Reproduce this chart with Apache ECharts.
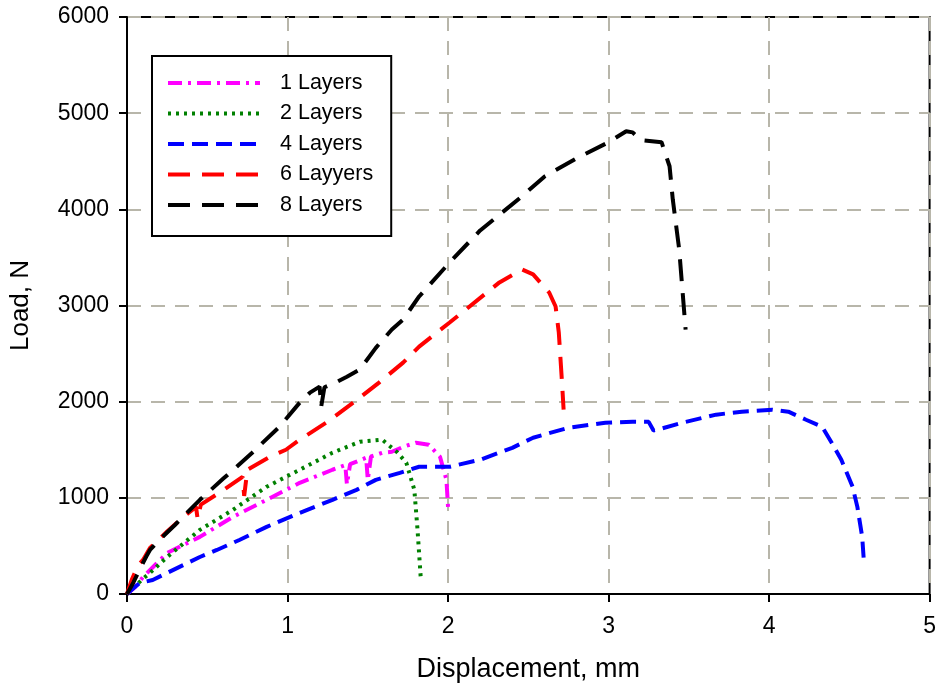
<!DOCTYPE html>
<html>
<head>
<meta charset="utf-8">
<title>Load vs Displacement</title>
<script src="https://cdn.jsdelivr.net/npm/echarts@6/dist/echarts.min.js"></script>
<style>
  html, body { margin: 0; padding: 0; background: #fff; }
  #chart { width: 939px; height: 692px; }
</style>
</head>
<body>
<div id="chart"></div>
<script>
// 数据 (displacement mm, load N)
const xTicks = [0, 1, 2, 3, 4, 5]
const yTicks = [0, 1000, 2000, 3000, 4000, 5000, 6000]
const seriesNames = ['1 Layers', '2 Layers', '4 Layers', '6 Layyers', '8 Layers']

const layers1 = [
  [0, 0], [0.05, 70], [0.1, 177], [0.25, 427], [0.454, 594], [0.66, 802], [0.87, 979],
  [1.076, 1156], [1.28, 1292], [1.36, 1340], [1.37, 1140], [1.39, 1350], [1.49, 1417],
  [1.5, 1187], [1.52, 1430], [1.59, 1469], [1.65, 1479], [1.72, 1530], [1.8, 1573],
  [1.88, 1552], [1.95, 1427], [1.99, 1187], [2.0, 906]
]
const layers2 = [
  [0, 0], [0.05, 80], [0.1, 160], [0.143, 219], [0.25, 385], [0.454, 667], [0.66, 875],
  [0.87, 1115], [1.076, 1292], [1.28, 1469], [1.45, 1583], [1.59, 1604], [1.68, 1479],
  [1.74, 1365], [1.79, 1083], [1.81, 667], [1.83, 167]
]
const layers4 = [
  [0, 0], [0.04, 60], [0.08, 115], [0.16, 146], [0.25, 219], [0.35, 300], [0.454, 385],
  [0.56, 458], [0.7, 562], [0.87, 698], [1.076, 844], [1.28, 979], [1.43, 1083],
  [1.55, 1187], [1.7, 1260], [1.82, 1323], [2.01, 1323], [2.2, 1396], [2.4, 1520],
  [2.53, 1625], [2.75, 1729], [2.98, 1781], [3.15, 1792], [3.25, 1790], [3.28, 1700],
  [3.33, 1720], [3.46, 1781], [3.67, 1865], [3.83, 1896], [4.02, 1917], [4.12, 1896],
  [4.23, 1812], [4.33, 1740], [4.39, 1573], [4.45, 1396], [4.52, 1115], [4.55, 906],
  [4.58, 594], [4.59, 354]
]
const layers6 = [
  [0, 0], [0.03, 150], [0.07, 300], [0.1, 354], [0.143, 479], [0.25, 650], [0.35, 800],
  [0.43, 906], [0.44, 780], [0.46, 930], [0.6, 1080], [0.72, 1219], [0.73, 1020],
  [0.75, 1292], [0.89, 1427], [0.99, 1500], [1.076, 1604], [1.24, 1781], [1.41, 1990],
  [1.57, 2198], [1.72, 2406], [1.82, 2573], [2.01, 2823], [2.32, 3240], [2.46, 3375],
  [2.53, 3323], [2.63, 3135], [2.67, 2990], [2.69, 2719], [2.71, 2198], [2.72, 1917]
]
const layers8 = [
  [0, 0], [0.04, 120], [0.08, 260], [0.12, 390], [0.143, 458], [0.2, 560], [0.3, 720],
  [0.454, 979], [0.6, 1200], [0.78, 1469], [0.95, 1740], [1.076, 1990], [1.14, 2094],
  [1.2, 2156], [1.21, 1950], [1.23, 2150], [1.3, 2200], [1.37, 2260], [1.45, 2333],
  [1.55, 2560], [1.65, 2750], [1.72, 2854], [1.82, 3094], [2.01, 3448], [2.2, 3780],
  [2.46, 4135], [2.6, 4340], [2.8, 4530], [3.0, 4698], [3.11, 4812], [3.15, 4800],
  [3.2, 4720], [3.33, 4698], [3.38, 4448], [3.4, 4104], [3.44, 3583], [3.48, 2750]
]

const chart = echarts.init(document.getElementById('chart'))

const makeSeries = (name, data, color, dash) => ({
  name: name,
  type: 'line',
  data: data,
  symbol: 'circle',
  symbolSize: 0,
  showSymbol: false,
  lineStyle: { color: color, width: 4, type: dash },
  itemStyle: { color: color },
  animation: false,
})

const option = {
  backgroundColor: '#fff',
  textStyle: { fontFamily: 'Liberation Sans, Arial, sans-serif', color: '#000' },
  grid: {
    left: 127,
    top: 17,
    width: 805,
    height: 577,
    show: true,
    borderColor: '#000',
    borderWidth: 2,
  },
  legend: {
    left: 152,
    top: 56,
    orient: 'vertical',
    data: seriesNames,
    itemWidth: 92,
    itemHeight: 14,
    itemGap: 8.5,
    padding: [16, 18, 20, 14],
    borderColor: '#000',
    borderWidth: 2,
    backgroundColor: '#fff',
    itemStyle: { opacity: 0 },
    lineStyle: { width: 4 },
    textStyle: {
      fontSize: 21.5,
      lineHeight: 22,
      color: '#000',
      padding: [0, 0, 0, 15],
    },
  },
  xAxis: {
    type: 'value',
    min: xTicks[0],
    max: xTicks[xTicks.length - 1],
    interval: 1,
    name: 'Displacement, mm',
    nameLocation: 'middle',
    nameGap: 62,
    nameTextStyle: { fontSize: 27, color: '#000' },
    axisLine: { lineStyle: { color: '#000', width: 2 } },
    axisTick: { inside: false, length: 8, lineStyle: { color: '#000', width: 2 } },
    axisLabel: { fontSize: 23, color: '#000', margin: 21 },
    splitLine: { show: true, lineStyle: { color: '#b8b6aa', width: 2, type: [14, 10] } },
  },
  yAxis: {
    type: 'value',
    min: yTicks[0],
    max: yTicks[yTicks.length - 1],
    interval: 1000,
    name: 'Load, N',
    nameLocation: 'middle',
    nameGap: 93,
    nameTextStyle: { fontSize: 26, color: '#000' },
    axisLine: { show: true, lineStyle: { color: '#000', width: 2 } },
    axisTick: { show: true, inside: false, length: 8, lineStyle: { color: '#000', width: 2 } },
    axisLabel: { fontSize: 23, color: '#000', margin: 18, formatter: (v) => String(v) },
    splitLine: { show: true, lineStyle: { color: '#b8b6aa', width: 2, type: [14, 10] } },
  },
  series: [
    makeSeries(seriesNames[0], layers1, '#ff00ff', [14, 6, 3, 6]),
    makeSeries(seriesNames[1], layers2, '#008000', [3, 5]),
    makeSeries(seriesNames[2], layers4, '#0000ff', [16, 8]),
    makeSeries(seriesNames[3], layers6, '#ff0000', [22, 12]),
    makeSeries(seriesNames[4], layers8, '#000000', [22, 12]),
  ],
}
chart.setOption(option)
</script>
</body>
</html>
